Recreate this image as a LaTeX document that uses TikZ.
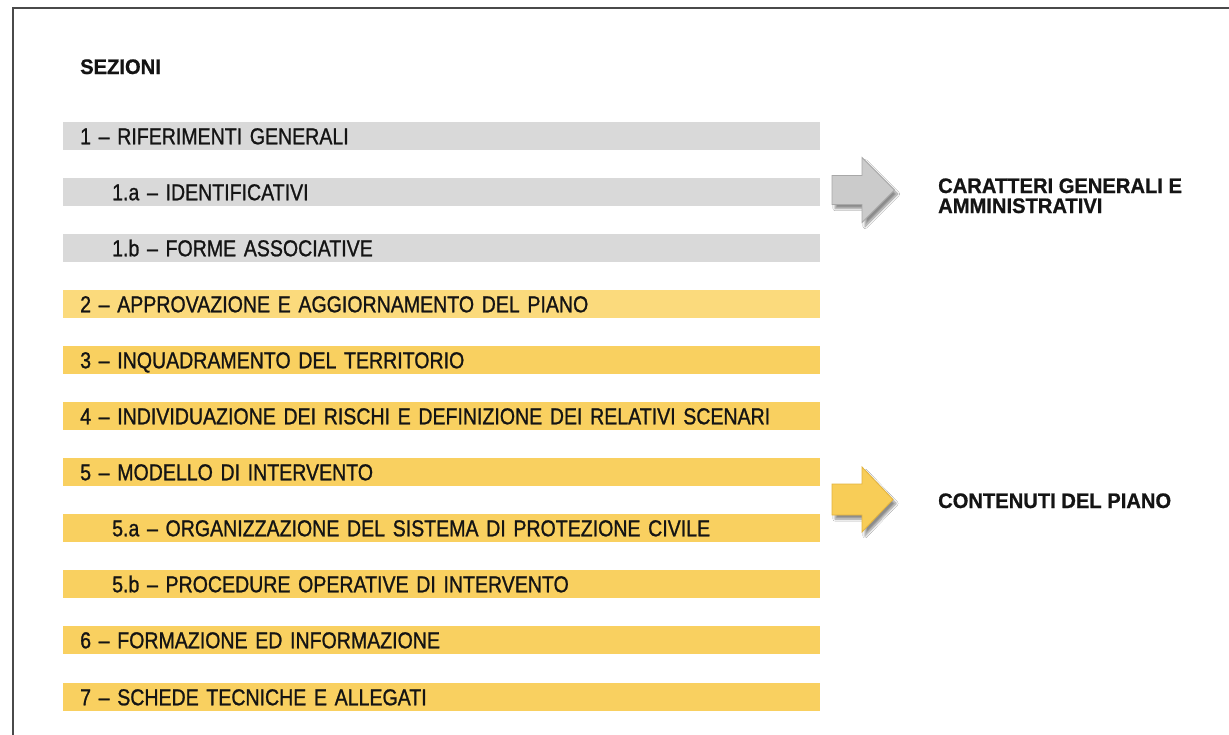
\documentclass[tikz,border=0pt]{standalone}
\usepackage{fontspec}
\setmainfont[FakeStretch=0.85, FakeBold=1.0]{Liberation Sans}
\newfontfamily\headfont[FakeStretch=0.96, FakeBold=0.8]{Liberation Sans}
\usetikzlibrary{shadows.blur}
\definecolor{bargray}{HTML}{D9D9D9}
\definecolor{baryellow}{HTML}{F9D060}
\definecolor{baryellowlight}{HTML}{FBDA7C}
\definecolor{arrgray}{HTML}{CBCBCB}
\definecolor{arrgrayedge}{HTML}{A8A8A8}
\definecolor{arryellow}{HTML}{F8CD57}
\definecolor{arryellowedge}{HTML}{E2B33E}
\definecolor{framecol}{HTML}{4A4A4A}
\definecolor{txt}{HTML}{141414}
\begin{document}
\begin{tikzpicture}[x=1pt,y=-1pt,
  bar/.style={rectangle, anchor=west, minimum width=757pt, minimum height=28pt,
    inner xsep=17pt, inner ysep=0pt, text width=723pt, align=left,
    text height=16.5pt, text depth=0pt, text=txt,
    font=\fontsize{23}{26}\selectfont},
  graybar/.style={bar, fill=bargray},
  yellowbar/.style={bar, fill=baryellow},
  heading/.style={inner sep=0pt, text=txt, align=left,
    font=\headfont\bfseries\fontsize{21}{20}\selectfont},
  arrowshape/.style={line width=0.8pt, line join=miter,
    blur shadow={shadow xshift=3pt, shadow yshift=-4pt, shadow blur steps=8, shadow opacity=45}}
]
\useasboundingbox (0,0) rectangle (1229,734);
\fill[white] (0,0) rectangle (1229,734);
% frame
\draw[framecol, line width=1.6pt] (13,760) -- (13,8) -- (1240,8);

\node[heading, anchor=base west] (sez) at (80,74) {SEZIONI};

\node[graybar] (s1) at (63,136) {1 – RIFERIMENTI GENERALI};
\node[graybar] (s1a) at (63,192) {\hspace*{32pt}1.a – IDENTIFICATIVI};
\node[graybar] (s1b) at (63,248) {\hspace*{32pt}1.b – FORME ASSOCIATIVE};
\node[yellowbar, fill=baryellowlight] (s2) at (63,304) {2 – APPROVAZIONE E AGGIORNAMENTO DEL PIANO};
\node[yellowbar] (s3) at (63,360) {3 – INQUADRAMENTO DEL TERRITORIO};
\node[yellowbar] (s4) at (63,416) {4 – INDIVIDUAZIONE DEI RISCHI E DEFINIZIONE DEI RELATIVI SCENARI};
\node[yellowbar] (s5) at (63,472) {5 – MODELLO DI INTERVENTO};
\node[yellowbar] (s5a) at (63,528) {\hspace*{32pt}5.a – ORGANIZZAZIONE DEL SISTEMA DI PROTEZIONE CIVILE};
\node[yellowbar] (s5b) at (63,584) {\hspace*{32pt}5.b – PROCEDURE OPERATIVE DI INTERVENTO};
\node[yellowbar] (s6) at (63,640) {6 – FORMAZIONE ED INFORMAZIONE};
\node[yellowbar] (s7) at (63,697) {7 – SCHEDE TECNICHE E ALLEGATI};

% arrows
\path[arrowshape, fill=arrgray, draw=arrgrayedge]
  (832,175.5) -- (862,175.5) -- (862,157.5) -- (894.5,190) -- (862,222.5) -- (862,204.5) -- (832,204.5) -- cycle;
\path[arrowshape, fill=arryellow, draw=arryellowedge]
  (832,484) -- (862,484) -- (862,467) -- (893,499.5) -- (862,532) -- (862,515) -- (832,515) -- cycle;

\node[heading, anchor=base west] (cg1) at (938,193) {CARATTERI GENERALI E};
\node[heading, anchor=base west] (cg2) at (938,213) {AMMINISTRATIVI};
\node[heading, anchor=base west] (cp) at (938,508) {CONTENUTI DEL PIANO};
\end{tikzpicture}
\end{document}
